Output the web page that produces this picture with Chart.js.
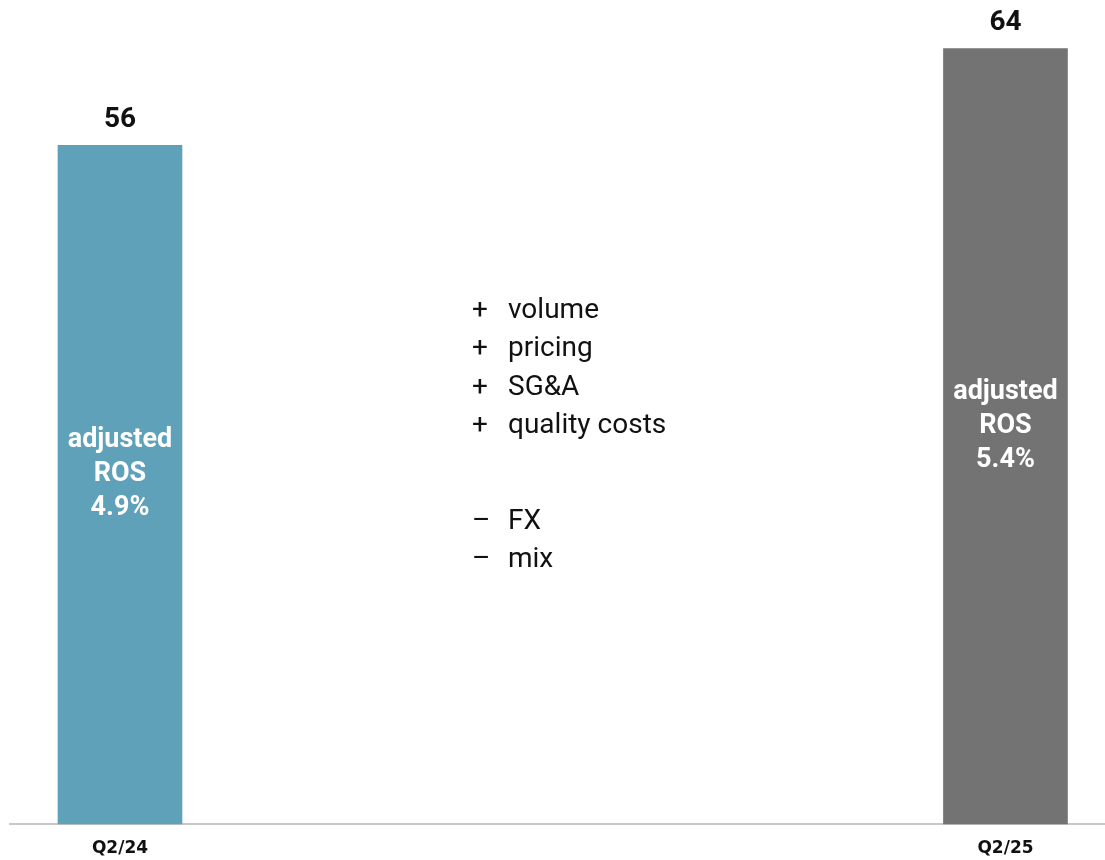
<!DOCTYPE html>
<html>
<head>
<meta charset="utf-8">
<title>adjusted EBIT Q2</title>
<script src="https://cdn.jsdelivr.net/npm/chart.js@4/dist/chart.umd.min.js"></script>
<style>
  html, body { margin: 0; padding: 0; background: #fff; }
  #wrap { width: 1105px; height: 860px; position: relative; }
</style>
</head>
<body>
<div id="wrap"><canvas id="chart"></canvas></div>
<script>
// quarters and values
const quarters = ["Q2/24", "Q2/25"];
const ebit = [56, 64];
const ros = ["4.9%", "5.4%"];
const barColors = ["#5fa1b9", "#737373"];

// drivers listed between the bars
const plusDrivers = ["volume", "pricing", "SG&A", "quality costs"];
const minusDrivers = ["FX", "mix"];

const points = quarters.map((q, i) => ({ x: i, y: ebit[i] }));

const barLabels = {
  id: "barLabels",
  afterDatasetsDraw(chart) {
    const ctx = chart.ctx;
    const meta = chart.getDatasetMeta(0);
    ctx.save();
    ctx.textAlign = "center";
    ctx.textBaseline = "middle";
    meta.data.forEach((bar, i) => {
      // value on top of the bar
      ctx.fillStyle = "#111";
      ctx.font = "bold 28px Roboto";
      ctx.fillText(String(ebit[i]), bar.x, bar.y - 25);

      // ROS inside the bar
      ctx.fillStyle = "#fff";
      ctx.font = "bold 27px Roboto";
      const mid = (bar.y + bar.base) / 2 - 10;
      ctx.fillText("adjusted", bar.x, mid - 34);
      ctx.fillText("ROS", bar.x, mid);
      ctx.fillText(ros[i], bar.x, mid + 34);
    });

    // drivers text block
    ctx.textAlign = "left";
    ctx.fillStyle = "#111";
    ctx.font = "28px Roboto";
    let y = 311;
    plusDrivers.forEach(d => {
      ctx.fillText("+", 472, y);
      ctx.fillText(d, 508, y);
      y += 38.3;
    });
    y = 522;
    minusDrivers.forEach(d => {
      ctx.fillText("\u2013", 472, y);
      ctx.fillText(d, 508, y);
      y += 37.5;
    });
    ctx.restore();
  }
};

new Chart(document.getElementById("chart"), {
  type: "bar",
  data: {
    datasets: [{
      data: points,
      backgroundColor: barColors,
      barThickness: 124,
      clip: false
    }]
  },
  options: {
    responsive: true,
    maintainAspectRatio: false,
    animation: false,
    layout: { padding: { left: 10, right: 0, top: 0, bottom: 0 } },
    plugins: {
      legend: { display: false },
      tooltip: { enabled: false }
    },
    scales: {
      x: {
        type: "linear",
        offset: false,
        min: -0.1242,
        max: 1.1124,
        grid: { display: false, drawTicks: false },
        border: { color: "#c8c8c8", width: 2 },
        afterBuildTicks(scale) {
          scale.ticks = quarters.map((q, i) => ({ value: i }));
        },
        afterFit(scale) { scale.height = 36; },
        ticks: {
          autoSkip: false,
          maxRotation: 0,
          padding: 14,
          color: "#111",
          font: { family: "DejaVu Sans", weight: "bold", size: 17 },
          callback: v => quarters[v]
        }
      },
      y: {
        display: false,
        min: 0,
        max: 68
      }
    }
  },
  plugins: [barLabels]
});
</script>
</body>
</html>
